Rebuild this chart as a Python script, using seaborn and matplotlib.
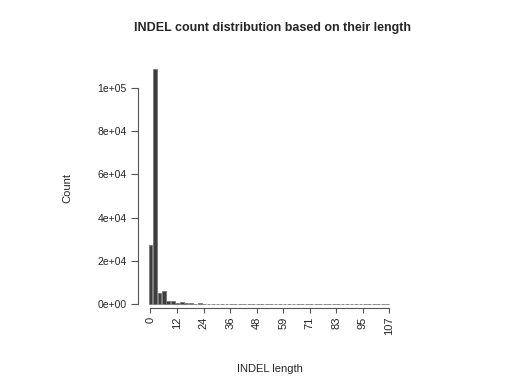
import matplotlib
matplotlib.use("Agg")
import matplotlib.pyplot as plt
import seaborn as sns
import pandas as pd

# ---------------- data ----------------
# bar index (2-unit length bins) and counts
bin_idx = list(range(54))
counts = [27300, 108800, 5200, 6000, 1400, 1400, 400, 1000, 300, 300,
          150, 400, 100, 80, 120, 60, 50, 40, 50, 100,
          40, 30, 30, 25, 30, 20, 20, 15, 20, 15,
          15, 10, 12, 10, 10, 8, 10, 8, 6, 8,
          6, 5, 6, 5, 5, 4, 5, 4, 3, 4,
          3, 3, 2, 3]
tick_labels = ["0", "12", "24", "36", "48", "59", "71", "83", "95", "107"]
tick_values = [0, 11.89, 23.78, 35.67, 47.56, 59.44, 71.33, 83.22, 95.11, 107]
y_ticks = [0, 20000, 40000, 60000, 80000, 100000]
y_labels = ["0e+00", "2e+04", "4e+04", "6e+04", "8e+04", "1e+05"]

df = pd.DataFrame({"bin": bin_idx, "count": counts})

sns.set_style("white")
plt.rcParams["font.family"] = ["Liberation Sans", "DejaVu Sans"]

fig = plt.figure(figsize=(5.3, 3.81), dpi=100)
ax = fig.add_axes([146 / 530, 1 - 304 / 381, 245.7 / 530, 237.6 / 381])

sns.barplot(data=df, x="bin", y="count", color="#3d3d3d", edgecolor="#777777",
            linewidth=0.6, width=0.85, saturation=1, ax=ax, native_scale=True)
# let the outlines of near-zero bars show along the baseline
for p in ax.patches:
    p.set_clip_on(False)

ax.set_xlim(-1, 54)
ax.set_ylim(0, 110000)

# axes like base R: detached spines
for s in ["top", "right"]:
    ax.spines[s].set_visible(False)
ax.spines["left"].set_position(("outward", 6))
ax.spines["bottom"].set_position(("outward", 2.8))
ax.spines["left"].set_bounds(0, 100000)
ax.spines["bottom"].set_bounds(0, 107 / 2)
for s in ["left", "bottom"]:
    ax.spines[s].set_color("#555555")
    ax.spines[s].set_linewidth(0.8)

ax.set_yticks(y_ticks)
ax.set_yticklabels(y_labels, fontsize=7.5)
ax.set_xticks([v / 2 for v in tick_values])
ax.set_xticklabels(tick_labels, rotation=90, fontsize=8)
ax.tick_params(axis="y", length=5, width=0.8, color="#555555",
               direction="out", left=True, pad=3)
ax.tick_params(axis="x", length=3.5, width=0.8, color="#555555",
               direction="out", bottom=True, pad=3)
ax.set_xlabel("")
ax.set_ylabel("")

fig.text(270 / 530, 1 - 369 / 381, "INDEL length", ha="center", va="center", fontsize=8)
fig.text(67 / 530, 1 - 188 / 381, "Count", ha="center", va="center",
         rotation=90, fontsize=8)
fig.text(273 / 530, 1 - 28 / 381, "INDEL count distribution based on their length",
         ha="center", va="center", fontsize=9, fontweight="bold")

fig.savefig("out.png", dpi=100)
